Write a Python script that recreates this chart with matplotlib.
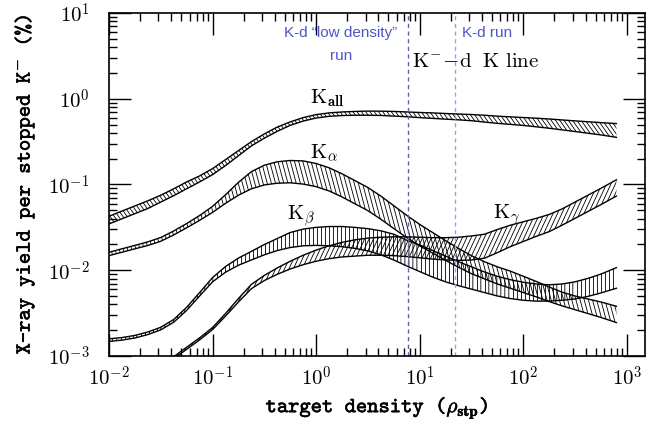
import numpy as np
import matplotlib
matplotlib.use('Agg')
import matplotlib.pyplot as plt
import matplotlib.patheffects as pe
from matplotlib.collections import LineCollection
from matplotlib.ticker import LogLocator, NullFormatter

plt.rcParams['font.family'] = 'DejaVu Serif'
plt.rcParams['mathtext.fontset'] = 'cm'

# target density grid (log10 of rho / rho_stp)
rho_exp = [-2.0, -1.875, -1.75, -1.625, -1.5, -1.375, -1.25, -1.125, -1.0, -0.875,
           -0.75, -0.625, -0.5, -0.375, -0.25, -0.125, 0.0, 0.125, 0.25, 0.375,
           0.5, 0.625, 0.75, 0.875, 1.0, 1.125, 1.25, 1.375, 1.5, 1.625,
           1.75, 1.875, 2.0, 2.125, 2.25, 2.375, 2.5, 2.625, 2.75, 2.9]
# K_gamma band only comes above 1e-3 % at low density
rho_exp_g = rho_exp[5:]

# yields per stopped K- (log10 of %), lower / upper edge of each band
kall_lo = [-1.46, -1.40, -1.34, -1.28, -1.205, -1.13, -1.05, -0.97, -0.885, -0.78,
           -0.665, -0.55, -0.46, -0.38, -0.31, -0.26, -0.225, -0.205, -0.196, -0.192,
           -0.192, -0.195, -0.202, -0.21, -0.22, -0.229, -0.238, -0.246, -0.256, -0.272,
           -0.287, -0.299, -0.311, -0.327, -0.344, -0.363, -0.382, -0.402, -0.422, -0.45]
kall_hi = [-1.37, -1.31, -1.25, -1.19, -1.125, -1.05, -0.97, -0.90, -0.815, -0.71,
           -0.605, -0.50, -0.41, -0.33, -0.27, -0.22, -0.185, -0.165, -0.154, -0.148,
           -0.144, -0.145, -0.148, -0.154, -0.16, -0.165, -0.172, -0.178, -0.184, -0.192,
           -0.203, -0.211, -0.219, -0.227, -0.236, -0.247, -0.258, -0.268, -0.278, -0.29]

kalpha_lo = [-1.83, -1.79, -1.75, -1.711, -1.662, -1.588, -1.505, -1.418, -1.325, -1.22,
             -1.125, -1.05, -1.005, -0.985, -0.98, -0.995, -1.025, -1.075, -1.145, -1.225,
             -1.305, -1.405, -1.513, -1.62, -1.715, -1.80, -1.885, -1.965, -2.04, -2.10,
             -2.16, -2.21, -2.26, -2.31, -2.365, -2.415, -2.46, -2.505, -2.55, -2.61]
kalpha_hi = [-1.79, -1.75, -1.71, -1.669, -1.618, -1.542, -1.455, -1.362, -1.255, -1.12,
             -0.975, -0.85, -0.775, -0.735, -0.72, -0.725, -0.755, -0.805, -0.875, -0.955,
             -1.035, -1.135, -1.247, -1.36, -1.465, -1.56, -1.655, -1.745, -1.83, -1.90,
             -1.96, -2.01, -2.07, -2.13, -2.195, -2.255, -2.30, -2.335, -2.37, -2.42]

kbeta_lo = [-2.83, -2.815, -2.79, -2.75, -2.695, -2.606, -2.468, -2.30, -2.135, -2.023,
            -1.942, -1.88, -1.82, -1.77, -1.735, -1.715, -1.71, -1.715, -1.725, -1.745,
            -1.775, -1.82, -1.88, -1.95, -2.015, -2.08, -2.135, -2.18, -2.22, -2.26,
            -2.30, -2.33, -2.35, -2.36, -2.36, -2.35, -2.335, -2.305, -2.265, -2.21]
kbeta_hi = [-2.80, -2.785, -2.76, -2.72, -2.665, -2.574, -2.432, -2.26, -2.085, -1.957,
            -1.858, -1.78, -1.70, -1.63, -1.56, -1.52, -1.50, -1.49, -1.49, -1.50,
            -1.515, -1.54, -1.58, -1.65, -1.705, -1.77, -1.835, -1.90, -1.96, -2.02,
            -2.07, -2.11, -2.14, -2.16, -2.17, -2.16, -2.135, -2.095, -2.045, -1.97]

kgamma_lo = [-3.032, -2.922, -2.812, -2.692, -2.535, -2.37, -2.215, -2.12, -2.047, -1.985,
             -1.935, -1.895, -1.865, -1.845, -1.835, -1.825, -1.825, -1.83, -1.84, -1.855,
             -1.87, -1.88, -1.885, -1.88, -1.86, -1.795, -1.725, -1.665, -1.605, -1.55,
             -1.475, -1.395, -1.315, -1.235, -1.135]
kgamma_hi = [-3.008, -2.898, -2.788, -2.668, -2.505, -2.33, -2.165, -2.06, -1.973, -1.895,
             -1.825, -1.765, -1.715, -1.675, -1.645, -1.625, -1.615, -1.61, -1.61, -1.615,
             -1.62, -1.62, -1.615, -1.60, -1.58, -1.525, -1.475, -1.435, -1.395, -1.35,
             -1.285, -1.205, -1.125, -1.045, -0.945]

# densities of the two K-d runs
low_density_run = 7.7
kd_run = 22.0

xticks = [1e-2, 1e-1, 1e0, 1e1, 1e2, 1e3]
xtick_labels = [r'$10^{-2}$', r'$10^{-1}$', r'$10^{0}$', r'$10^{1}$', r'$10^{2}$', r'$10^{3}$']
yticks = [1e-3, 1e-2, 1e-1, 1e0, 1e1]
ytick_labels = [r'$10^{-3}$', r'$10^{-2}$', r'$10^{-1}$', r'$10^{0}$', r'$10^{1}$']

W, H = 6.49, 4.23
fig = plt.figure(figsize=(W, H), dpi=100)
ax = fig.add_axes([109 / 649, 1 - 356 / 423, 536 / 649, 343 / 423])
ax.set_xscale('log')
ax.set_yscale('log')
ax.set_xlim(1e-2, 1.5e3)
ax.set_ylim(1e-3, 1e1)


def hatch_lines(angle, gap):
    # parallel lines over the whole figure (in inches), rotated by angle
    t = np.deg2rad(angle)
    d = np.array([np.cos(t), np.sin(t)])
    n = np.array([-np.sin(t), np.cos(t)])
    c = np.array([W / 2, H / 2])
    L = np.hypot(W, H)
    segs = []
    for k in range(-int(L / gap), int(L / gap) + 1):
        p = c + k * gap * n
        segs.append([p - L * d, p + L * d])
    return segs


def band(x_exp, lo, hi, angle, gap=0.04):
    x = 10 ** np.array(x_exp)
    ylo = 10 ** np.array(lo)
    yhi = 10 ** np.array(hi)
    poly = ax.fill_between(x, ylo, yhi, facecolor='none', edgecolor='none')
    lc = LineCollection(hatch_lines(angle, gap), colors='black', linewidths=0.6,
                        transform=fig.dpi_scale_trans)
    ax.add_collection(lc, autolim=False)
    lc.set_clip_path(poly.get_paths()[0], poly.get_transform())
    ax.plot(x, ylo, color='black', lw=1.0)
    ax.plot(x, yhi, color='black', lw=1.0)


band(rho_exp, kall_lo, kall_hi, 125, gap=0.035)
band(rho_exp, kalpha_lo, kalpha_hi, 105)
band(rho_exp, kbeta_lo, kbeta_hi, 90)
band(rho_exp_g, kgamma_lo, kgamma_hi, 65)

ax.axvline(low_density_run, color='#5a62b0', ls=(0, (3, 2.5)), lw=1.0)
ax.axvline(kd_run, color='#9aa2e6', ls=(0, (3, 2.5)), lw=1.0)

blue = '#4a55c8'
ax.text(0.433, 0.930, 'K-d \u201clow density\u201d', transform=ax.transAxes, color=blue,
        family='Liberation Sans', fontsize=11, ha='center', va='baseline')
ax.text(0.433, 0.863, 'run', transform=ax.transAxes, color=blue,
        family='Liberation Sans', fontsize=11, ha='center', va='baseline')
ax.text(0.705, 0.930, 'K-d run', transform=ax.transAxes, color=blue,
        family='Liberation Sans', fontsize=11, ha='center', va='baseline')
ax.text(0.565, 0.843, r'$\mathrm{K^{-}\!-\!d\ \ K\ line}$', transform=ax.transAxes,
        fontsize=15, ha='left', va='baseline')

ax.text(0.87, 0.89, r'$\mathrm{K_{\mathbf{all}}}$', fontsize=15, va='baseline')
ax.text(0.87, 0.204, r'$\mathrm{K}_{\alpha}$', fontsize=15, va='baseline')
ax.text(0.52, 0.0386, r'$\mathrm{K}_{\beta}$', fontsize=15, va='baseline')
ax.text(51, 0.0407, r'$\mathrm{K}_{\gamma}$', fontsize=15, va='baseline')

ax.set_xticks(xticks)
ax.set_xticklabels(xtick_labels, fontsize=15)
ax.set_yticks(yticks)
ax.set_yticklabels(ytick_labels, fontsize=15)
ax.xaxis.set_minor_locator(LogLocator(subs=np.arange(2, 10)))
ax.yaxis.set_minor_locator(LogLocator(subs=np.arange(2, 10)))
ax.xaxis.set_minor_formatter(NullFormatter())
ax.yaxis.set_minor_formatter(NullFormatter())
ax.tick_params(which='both', direction='in', top=True, right=True, width=1.0)
ax.tick_params(which='major', length=16)
ax.tick_params(which='minor', length=6)
ax.tick_params(axis='x', pad=7)
ax.tick_params(axis='y', pad=14)
for s in ax.spines.values():
    s.set_linewidth(1.2)

# cmtt10 is a light face, thicken it a little
bold = [pe.withStroke(linewidth=0.4, foreground='black')]
ax.set_xlabel('target density (' + r'$\rho_{\mathbf{stp}}$' + ')', family='cmtt10',
              fontsize=15.5, labelpad=3, path_effects=bold)
ax.set_ylabel('X-ray yield per stopped K' + r'$^{-}$' + ' (%)', family='cmtt10',
              fontsize=15.5, labelpad=8, path_effects=bold)

fig.savefig('out.png', dpi=100)
